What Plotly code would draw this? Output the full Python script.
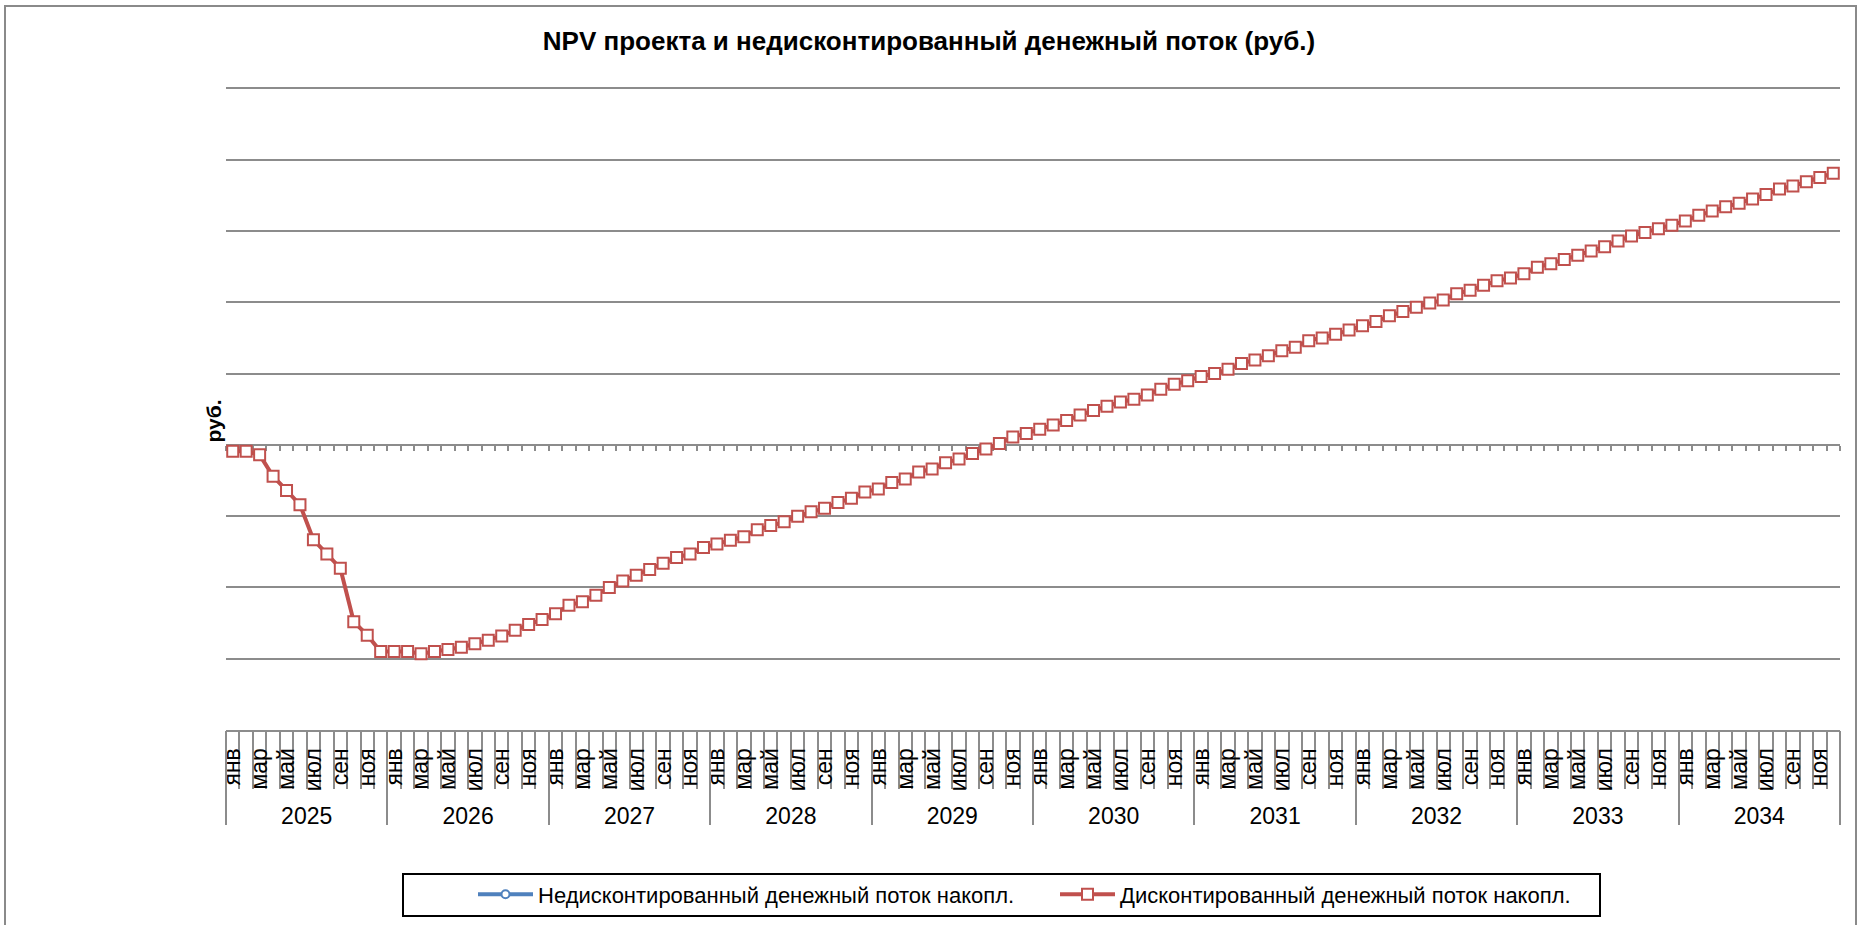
import plotly.graph_objects as go

# ---------------- data ----------------
years = ["2025", "2026", "2027", "2028", "2029", "2030", "2031", "2032", "2033", "2034"]
months = ["янв", "фев", "мар", "апр", "май", "июн", "июл", "авг", "сен", "окт", "ноя", "дек"]
month_labels_shown = ["янв", "", "мар", "", "май", "", "июл", "", "сен", "", "ноя", ""]

# Дисконтированный денежный поток накопл. (условные единицы = шаг сетки)
discounted_cum = [
    -0.09, -0.09, -0.14, -0.44, -0.64, -0.84, -1.33, -1.53, -1.73, -2.48, -2.67, -2.90,
    -2.90, -2.90, -2.93, -2.90, -2.87, -2.84, -2.79, -2.74, -2.68, -2.60, -2.52, -2.45,
    -2.37, -2.25, -2.20, -2.11, -2.00, -1.91, -1.83, -1.75, -1.66, -1.58, -1.53, -1.44,
    -1.39, -1.34, -1.29, -1.19, -1.13, -1.08, -1.00, -0.94, -0.89, -0.81, -0.75, -0.66,
    -0.62, -0.53, -0.48, -0.38, -0.34, -0.25, -0.20, -0.12, -0.06, 0.02, 0.11, 0.16,
    0.22, 0.28, 0.34, 0.42, 0.48, 0.54, 0.60, 0.64, 0.70, 0.78, 0.85, 0.90,
    0.96, 1.00, 1.06, 1.14, 1.19, 1.25, 1.32, 1.37, 1.46, 1.50, 1.55, 1.61,
    1.67, 1.73, 1.81, 1.87, 1.93, 1.99, 2.03, 2.12, 2.17, 2.24, 2.30, 2.34,
    2.40, 2.49, 2.54, 2.60, 2.66, 2.72, 2.78, 2.86, 2.93, 2.98, 3.03, 3.08,
    3.14, 3.22, 3.28, 3.34, 3.39, 3.45, 3.51, 3.59, 3.63, 3.69, 3.75, 3.81,
]
# Недисконтированный поток: на графике не виден (только в легенде)
undiscounted_cum = [None] * len(discounted_cum)

series_names = ["Недисконтированный денежный поток накопл.", "Дисконтированный денежный поток накопл."]
title_text = "NPV проекта и недисконтированный денежный поток (руб.)"
y_title = "руб."

# ---------------- derived positions ----------------
n = len(years) * len(months)
x_idx = list(range(n))
boundaries = [i - 0.5 for i in range(n + 1)]
year_bounds = [i * 12 - 0.5 for i in range(len(years) + 1)]
year_centers = [i * 12 + 5.5 for i in range(len(years))]
month_tickvals = [i for i in range(n) if month_labels_shown[i % 12]]
month_ticktext = [month_labels_shown[i % 12] for i in month_tickvals]

W, H = 1858, 925
ML, MR, MT, MB = 226, 18, 67, 195
PW, PH = W - ML - MR, H - MT - MB

XR = [-0.5, n - 0.5]
YR = [-4, 5.3]
GRID = "#8c8c8c"
RED = "#C0504D"
BLUE = "#4F81BD"
FONT = "Liberation Sans, Arial, sans-serif"


def px_x(p):
    return (p - ML) / PW


def px_y(p):
    return (H - MB - p) / PH


fig = go.Figure()
fig.add_trace(go.Scatter(
    x=x_idx, y=undiscounted_cum, name=series_names[0], mode="lines+markers",
    line=dict(color=BLUE, width=4),
    marker=dict(symbol="circle", size=8, color="white", line=dict(color=BLUE, width=2)),
))
fig.add_trace(go.Scatter(
    x=x_idx, y=discounted_cum, name=series_names[1], mode="lines+markers",
    line=dict(color=RED, width=4),
    marker=dict(symbol="square", size=11, color="white", line=dict(color=RED, width=2)),
))

zero_pos = (0 - YR[0]) / (YR[1] - YR[0])

fig.update_layout(
    width=W, height=H,
    margin=dict(l=ML, r=MR, t=MT, b=MB, autoexpand=False),
    paper_bgcolor="white", plot_bgcolor="white",
    font=dict(family=FONT, color="black", size=20),
    title=dict(text="<b>" + title_text + "</b>", x=0.5, xref="container", xanchor="center",
               y=1 - 41 / H, yref="container", yanchor="middle",
               font=dict(size=26, family=FONT, color="black")),
    showlegend=True,
    legend=dict(orientation="h", x=px_x(473), xanchor="left", y=px_y(873.5), yanchor="top",
                bgcolor="rgba(0,0,0,0)", borderwidth=0, font=dict(size=22, family=FONT),
                entrywidth=512, itemwidth=55),
    # main data axis: month separators below plot
    xaxis=dict(range=XR, showgrid=False, zeroline=False, showticklabels=False,
               showline=True, linecolor=GRID, linewidth=2,
               ticks="outside", tickmode="array", tickvals=boundaries,
               ticklen=57, tickwidth=1.5, tickcolor=GRID),
    # month labels
    xaxis2=dict(range=XR, overlaying="x", anchor="y", side="bottom",
                showgrid=False, zeroline=False, showline=False,
                tickmode="array", tickvals=month_tickvals, ticktext=month_ticktext,
                tickangle=-90, ticks="outside", ticklen=8, tickcolor="rgba(0,0,0,0)",
                tickfont=dict(size=23, family=FONT)),
    # year separators
    xaxis3=dict(range=XR, overlaying="x", anchor="y", side="bottom",
                showgrid=False, zeroline=False, showline=False, showticklabels=False,
                ticks="outside", tickmode="array", tickvals=year_bounds,
                ticklen=94, tickwidth=1.5, tickcolor=GRID),
    # year labels
    xaxis4=dict(range=XR, overlaying="x", anchor="y", side="bottom",
                showgrid=False, zeroline=False, showline=False,
                tickmode="array", tickvals=year_centers, ticktext=years,
                ticks="outside", ticklen=65, tickcolor="rgba(0,0,0,0)",
                tickfont=dict(size=23, family=FONT)),
    # zero axis line with small tick marks
    xaxis5=dict(range=XR, overlaying="x", anchor="free", position=zero_pos, side="bottom",
                showgrid=False, zeroline=False, showticklabels=False,
                showline=True, linecolor=GRID, linewidth=2, layer="below traces",
                ticks="outside", tickmode="array", tickvals=boundaries,
                ticklen=5, tickwidth=1.5, tickcolor=GRID),
    yaxis=dict(range=YR, dtick=1, tick0=0, showgrid=True, gridcolor=GRID, gridwidth=2,
               zeroline=False, showline=False, showticklabels=False, ticks=""),
)

# invisible helper traces so the overlay axes are rendered
for ax in ["x2", "x3", "x4", "x5"]:
    fig.add_trace(go.Scatter(x=[XR[0]], y=[None], xaxis=ax, showlegend=False, hoverinfo="skip"))

# y-axis title
fig.add_annotation(text="<b>" + y_title + "</b>", xref="paper", yref="paper",
                   x=px_x(226), y=px_y(421), xanchor="right", yanchor="middle",
                   textangle=-90, showarrow=False, font=dict(size=21, family=FONT))

# chart-area border and legend frame
fig.add_shape(type="rect", xref="paper", yref="paper",
              x0=px_x(5), x1=px_x(1856), y0=px_y(935), y1=px_y(6),
              line=dict(color="#8a8a8a", width=2), fillcolor="rgba(0,0,0,0)", layer="below")
fig.add_shape(type="rect", xref="paper", yref="paper",
              x0=px_x(403), x1=px_x(1600), y0=px_y(916), y1=px_y(874),
              line=dict(color="black", width=2), fillcolor="rgba(0,0,0,0)")

fig.write_html("out.html", config={"displayModeBar": False},
               post_script="document.body.style.margin='0';document.body.style.overflow='hidden';")
